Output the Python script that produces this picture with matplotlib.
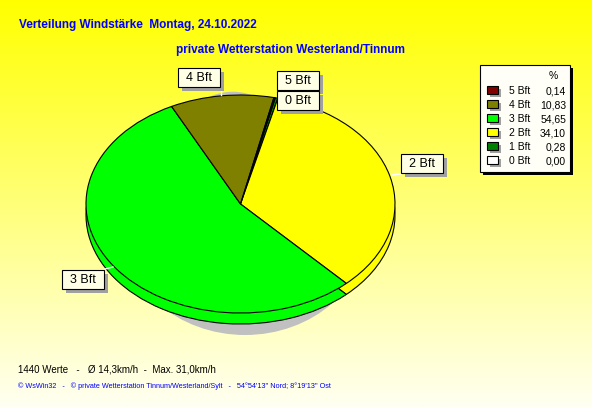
import numpy as np
import matplotlib.pyplot as plt
from matplotlib.patches import Rectangle, Ellipse

# Daten
stufen = ["0 Bft", "1 Bft", "2 Bft", "3 Bft", "4 Bft", "5 Bft"]
prozent = [0.00, 0.28, 34.10, 54.65, 10.83, 0.14]
farben = ["#FFFFFF", "#008000", "#FFFF00", "#00FF00", "#808000", "#800000"]
legende_reihenfolge = [5, 4, 3, 2, 1, 0]

titel = "Verteilung Windstärke  Montag, 24.10.2022"
untertitel = "private Wetterstation Westerland/Tinnum"
info = "1440 Werte   -   Ø 14,3km/h  -  Max. 31,0km/h"
fusszeile = "© WsWin32   -   © private Wetterstation Tinnum/Westerland/Sylt   -   54°54'13'' Nord; 8°19'13'' Ost"

W, H = 592, 407
fig = plt.figure(figsize=(W / 100, H / 100), dpi=100)

# Hintergrund mit Farbverlauf
bg = fig.add_axes([0, 0, 1, 1], zorder=0)
bg.set_xlim(0, W)
bg.set_ylim(H, 0)
bg.axis("off")
t = np.linspace(0, 1, 256)[:, None]
oben = np.array([255, 255, 0]) / 255
unten = np.array([255, 255, 242]) / 255
verlauf = oben + (unten - oben) * t[..., None]
verlauf = np.repeat(verlauf, 2, axis=1)
bg.imshow(verlauf, extent=[0, W, H, 0], aspect="auto", zorder=0)

# Kuchen (elliptisch, mit Seitenwand)
cx, cy, rx, ry = 240.5, 204, 154.5, 109
tiefe = 11 / ry
x0, x1 = -1.1, 1.1
y0, y1 = -1.25, 1.1
links = (cx + x0 * rx) / W
breite = (x1 - x0) * rx / W
oben_px = cy - y1 * ry
unten_px = cy - y0 * ry
ax = fig.add_axes([links, (H - unten_px) / H, breite, (unten_px - oben_px) / H], zorder=1)
ax.patch.set_alpha(0)

start = 77
# Schatten
ax.add_patch(Ellipse((0.03, -2 * tiefe), 1.6, 2.0, facecolor="#C0C0C0", edgecolor="none"))
ax.add_patch(Ellipse((-0.05, 0.03), 1.0, 2.0, facecolor="#C0C0C0", edgecolor="none"))
ax.pie(prozent, colors=farben, startangle=start, counterclock=False,
       center=(0, -tiefe), radius=1.0,
       wedgeprops=dict(edgecolor="black", linewidth=0.8))
ax.pie(prozent, colors=farben, startangle=start, counterclock=False,
       center=(0, 0), radius=1.0,
       wedgeprops=dict(edgecolor="black", linewidth=0.8))
ax.set_aspect("auto")
ax.set_xlim(x0, x1)
ax.set_ylim(y0, y1)
ax.axis("off")

# Beschriftungen und Legende
ov = fig.add_axes([0, 0, 1, 1], zorder=2)
ov.set_xlim(0, W)
ov.set_ylim(H, 0)
ov.axis("off")
ov.patch.set_alpha(0)

boxen = {"4 Bft": (178, 68), "5 Bft": (277, 71), "0 Bft": (277, 91),
         "2 Bft": (401, 154), "3 Bft": (62, 270)}
linien = [((221, 88), (221, 95)), ((392, 175), (401, 174)), ((105, 269), (113, 267))]
for (a, b) in linien:
    ov.plot([a[0], b[0]], [a[1], b[1]], color="white", lw=1, zorder=3)
for name, (bx, by) in boxen.items():
    ov.add_patch(Rectangle((bx + 4, by + 4), 42, 19, facecolor="#A0A0A0",
                           edgecolor="none", zorder=4))
    ov.add_patch(Rectangle((bx, by), 42, 19, facecolor="#FFFFE6",
                           edgecolor="black", lw=0.8, zorder=5))
    ov.text(bx + 21, by + 10, name, ha="center", va="center", fontsize=9,
            family="Liberation Sans", zorder=6)

# Legende
lx, ly, lw_, lh = 480, 65, 90, 107
ov.add_patch(Rectangle((lx + 3, ly + 3), lw_, lh, facecolor="black", edgecolor="none", zorder=4))
ov.add_patch(Rectangle((lx, ly), lw_, lh, facecolor="#FFFFF8", edgecolor="black", lw=0.8, zorder=5))
ov.text(553, 76, "%", ha="center", va="center", fontsize=7.5, family="Liberation Sans", zorder=6)
for i, k in enumerate(legende_reihenfolge):
    yy = 91 + i * 14
    ov.add_patch(Rectangle((490, yy - 2), 11, 8, facecolor="#A0A0A0", edgecolor="none", zorder=5))
    ov.add_patch(Rectangle((487, yy - 5), 11, 8, facecolor=farben[k], edgecolor="black", lw=0.8, zorder=6))
    ov.text(509, yy, stufen[k], ha="left", va="center", fontsize=7.5,
            family="Liberation Sans", zorder=6)
    ov.text(566, yy, f"{prozent[k]:.2f}".replace(".", ","), ha="right", va="center",
            fontsize=7.5, family="Liberation Sans", zorder=6)

# Texte
ov.text(19, 25, titel, ha="left", va="center", fontsize=8.5, fontweight="bold",
        color="#0000FF", family="Liberation Sans", zorder=6)
ov.text(176, 50, untertitel, ha="left", va="center", fontsize=8.5, fontweight="bold",
        color="#0000FF", family="Liberation Sans", zorder=6)
ov.text(18, 369, info, ha="left", va="center", fontsize=7.0, color="black",
        family="Liberation Sans", zorder=6)
ov.text(18, 386, fusszeile, ha="left", va="center", fontsize=5.2, color="#0000FF",
        family="Liberation Sans", zorder=6)

fig.savefig("out.png", dpi=100)
